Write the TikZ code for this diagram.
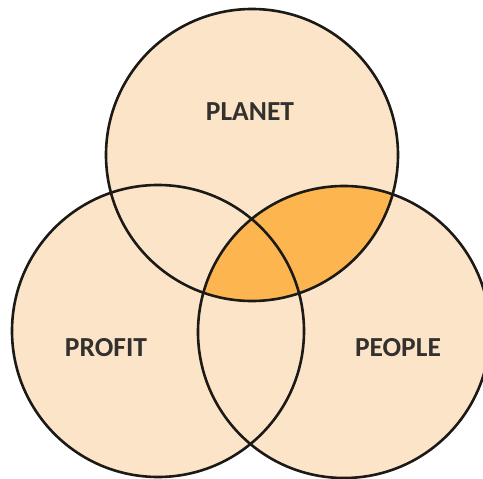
\documentclass[tikz,border=0pt]{standalone}
\usepackage{fontspec}
\setmainfont{Carlito}
\definecolor{petal}{HTML}{FCE4C8}
\definecolor{overlap}{HTML}{FDB550}
\definecolor{rim}{HTML}{1C1A17}
\tikzset{
  ring/.style={draw=rim, line width=2.6pt},
  tag/.style={font=\bfseries\fontsize{27.5}{32}\selectfont, text=rim!90}
}
\begin{document}
\begin{tikzpicture}[x=1pt,y=-1pt]
                \useasboundingbox (0,0) rectangle (483,479);
                \coordinate (planet) at (252,155);
                \coordinate (profit) at (158,331);
                \coordinate (people) at (344,332);

                \fill [petal] (planet) circle (146);
                \fill [petal] (profit) circle (146);
                \fill [petal] (people) circle (146);
                \begin{scope}
                    \clip (planet) circle (146);
                    \fill [overlap] (people) circle (146);
                \end{scope}

                \draw [ring] (planet) circle (146);
                \draw [ring] (profit) circle (146);
                \draw [ring] (people) circle (146);

                \node [tag] (planetlabel) at (250,112) {PLANET};
                \node [tag] (profitlabel) at (106,348) {PROFIT};
                \node [tag] (peoplelabel) at (398,348) {PEOPLE};
            \end{tikzpicture}
\end{document}
